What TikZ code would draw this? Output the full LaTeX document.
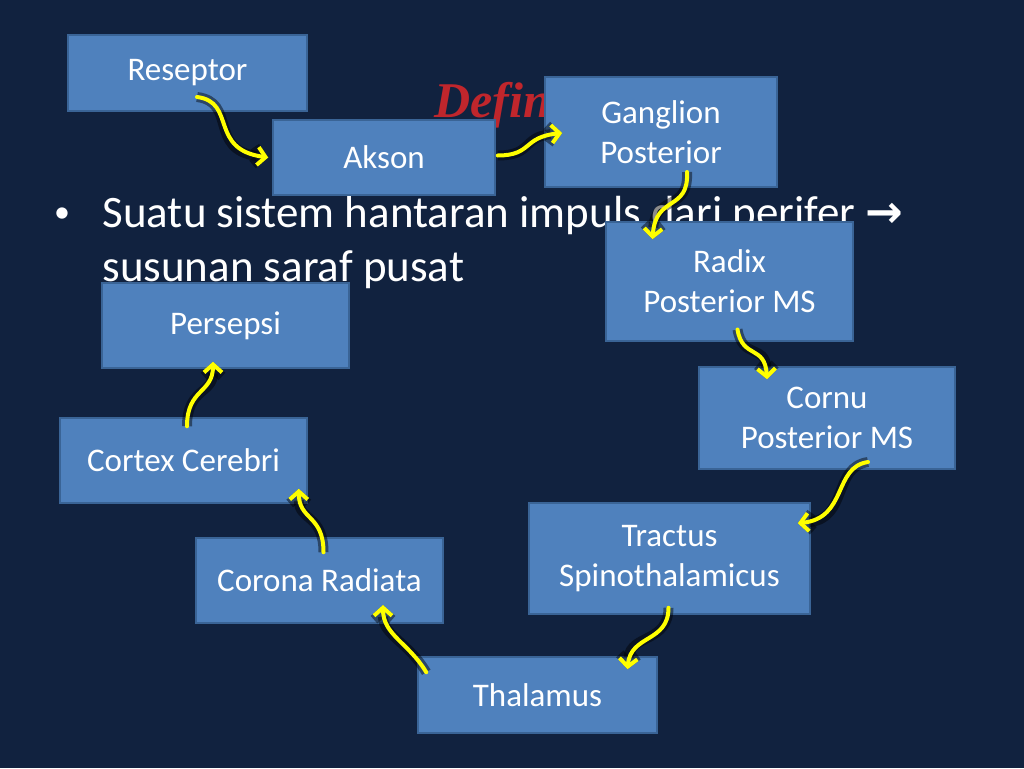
\documentclass[tikz,border=0pt]{standalone}
\usepackage{fontspec}
\setmainfont{Carlito}
\newfontfamily\titlefont{Liberation Serif}
\newfontfamily\symbfont{DejaVu Sans}
\usetikzlibrary{calc,arrows.meta}

\definecolor{slidebg}{HTML}{11223F}
\definecolor{boxfill}{HTML}{4F81BD}
\definecolor{boxline}{HTML}{3A6496}
\definecolor{flowyellow}{HTML}{FFFF00}
\definecolor{titlered}{HTML}{C0262C}

\tikzset{
	box/.style={draw=boxline, line width=1.5pt, fill=boxfill, text=white,
		align=center, inner sep=0pt, font=\fontsize{33}{40}\selectfont},
	flow/.style={draw=flowyellow, line width=4pt, line cap=round,
		-{Straight Barb[length=8pt,width=18pt]},
		preaction={draw=black, draw opacity=0.45, line width=10pt}},
	bullettext/.style={anchor=base west, text=white, font=\fontsize{45}{54}\selectfont}
}

\begin{document}
\begin{tikzpicture}[x=1pt,y=-1pt]

	% ---- slide

	\fill[slidebg] (0,0) rectangle (1024,768);
	\useasboundingbox (0,0) rectangle (1024,768);

	% ---- title and text

	\node[anchor=base west, text=titlered, font=\titlefont\bfseries\itshape\fontsize{50}{56}\selectfont]
		(title) at (431,117) {Defin};

	\node[anchor=base, text=white, font=\fontsize{32}{40}\selectfont] (dot) at (62,222) {•};
	\node[bullettext] (line1) at (99,227) {Suatu sistem hantaran impuls dari perifer {\symbfont\bfseries →}};
	\node[bullettext] (line2) at ($(line1.base west)+(0,54)$) {susunan saraf pusat};

	% ---- boxes

	\node[box, minimum width=239pt, minimum height=76pt]  (reseptor) at (187.5,73)  {Reseptor};
	\node[box, minimum width=222pt, minimum height=75pt]  (akson)    at (384,157.5) {Akson};
	\node[box, minimum width=232pt, minimum height=110pt] (ganglion) at (661,132)   {Ganglion\\Posterior};
	\node[box, minimum width=247pt, minimum height=119pt] (radix)    at (729.5,281.5) {Radix\\Posterior MS};
	\node[box, minimum width=256pt, minimum height=102pt] (cornu)    at (827,418)   {Cornu\\Posterior MS};
	\node[box, minimum width=281pt, minimum height=111pt] (tractus)  at (669.5,558.5) {Tractus\\Spinothalamicus};
	\node[box, minimum width=239pt, minimum height=76pt]  (thalamus) at (537.5,695) {Thalamus};
	\node[box, minimum width=247pt, minimum height=85pt]  (corona)   at (319.5,580.5) {Corona Radiata};
	\node[box, minimum width=247pt, minimum height=85pt]  (cortex)   at (183.5,460.5) {Cortex Cerebri};
	\node[box, minimum width=247pt, minimum height=85pt]  (persepsi) at (225.5,325.5) {Persepsi};

	% ---- arrows

	\draw[flow] ($(reseptor)+(9.5,24)$) .. controls +(40,5) and +(-60,-8) .. ($(akson.west)+(-4,0)$);
	\draw[flow] ($(akson.east)+(2,-2)$) .. controls +(35,0) and +(-40,4) .. ($(ganglion.west)+(18,1)$);
	\draw[flow] ($(ganglion)+(26,40)$) .. controls +(2,40) and +(3,-45) .. ($(radix.north)+(-77,18)$);
	\draw[flow] ($(radix)+(8,48)$) .. controls +(5,30) and +(-2,-35) .. ($(cornu.north)+(-60,13)$);
	\draw[flow] ($(cornu)+(41,44)$) .. controls +(-35,5) and +(50,-5) .. ($(tractus.north east)+(-13,21)$);
	\draw[flow] ($(tractus.south)+(-1,-7)$) .. controls +(0,35) and +(3,-35) .. ($(thalamus.north)+(90,13)$);
	\draw[flow] ($(thalamus.north west)+(9,16)$) .. controls +(-18,-30) and +(0,30) .. ($(corona)+(63.5,24.5)$);
	\draw[flow] ($(corona.north)+(4,15)$) .. controls +(0,-38) and +(0,32) .. ($(cortex.south east)+(-9,-15)$);
	\draw[flow] ($(cortex.north)+(3.5,9)$) .. controls +(0,-38) and +(0,32) .. ($(persepsi.south)+(-12.5,-7)$);

\end{tikzpicture}
\end{document}
